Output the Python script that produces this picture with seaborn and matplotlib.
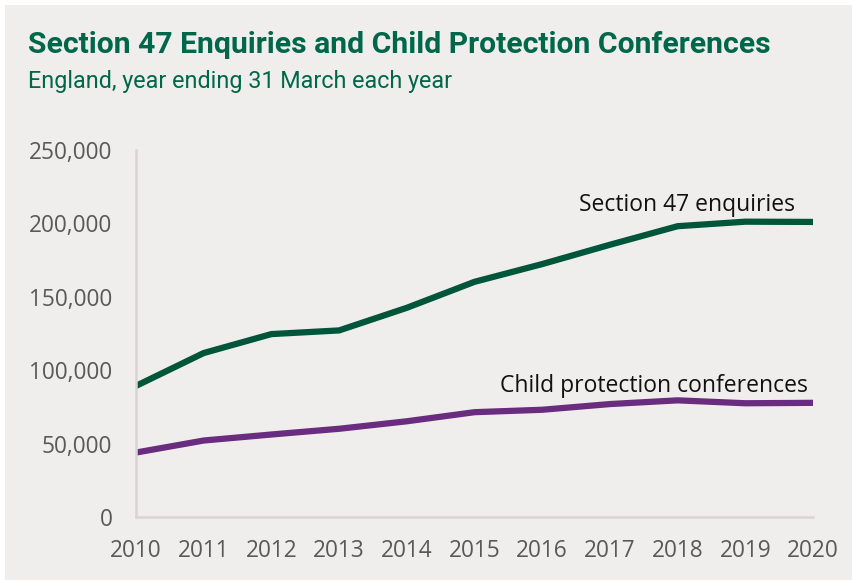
import matplotlib
matplotlib.use("Agg")
import matplotlib.pyplot as plt
import seaborn as sns
import pandas as pd
from matplotlib.patches import Rectangle
from matplotlib.ticker import FuncFormatter

years = [2010, 2011, 2012, 2013, 2014, 2015, 2016, 2017, 2018, 2019, 2020]
section47 = [89300, 111700, 124600, 127100, 142500, 160200, 172290, 185450, 198090, 201170, 201000]
cp_conferences = [43900, 52100, 56200, 60100, 65200, 71400, 73050, 76930, 79470, 77480, 77770]
series_names = ["Section 47 enquiries", "Child protection conferences"]
yticks = [0, 50000, 100000, 150000, 200000, 250000]

df = pd.DataFrame({
    "year": years * 2,
    "value": section47 + cp_conferences,
    "series": [series_names[0]] * len(years) + [series_names[1]] * len(years),
})

BG = "#EFEEEC"
GREEN = "#00553A"
PURPLE = "#6A2C7F"
TITLE = "#00674A"
GRID = "#D9D4D4"
TICK = "#595959"

sns.set_theme(style="white")
plt.rcParams["font.family"] = ["Open Sans", "DejaVu Sans"]

fig = plt.figure(figsize=(8.52, 5.82), dpi=100, facecolor="white")
fig.patches.append(Rectangle((5 / 852, 2 / 582), 1, 1 - 7 / 582, transform=fig.transFigure,
                             facecolor=BG, edgecolor="none", zorder=-10))
ax = fig.add_axes([136 / 852, 1 - 517 / 582, (813 - 136) / 852, (517 - 150) / 582])
ax.set_facecolor(BG)

sns.lineplot(data=df, x="year", y="value", hue="series", palette=[GREEN, PURPLE],
             linewidth=4.5, ax=ax, legend=False)

ax.set_xlim(2010, 2020)
ax.set_ylim(0, 250000)
ax.set_xticks(years)
ax.set_yticks(yticks)
ax.yaxis.set_major_formatter(FuncFormatter(lambda v, p: f"{int(v):,}"))
ax.set_xlabel("")
ax.set_ylabel("")
for s in ["top", "right"]:
    ax.spines[s].set_visible(False)
for s in ["left", "bottom"]:
    ax.spines[s].set_color(GRID)
    ax.spines[s].set_linewidth(1.8)
ax.tick_params(axis="both", colors=GRID, labelcolor=TICK, labelsize=16.3,
               direction="out", length=7, width=1.8)
ax.tick_params(axis="x", pad=9)
ax.tick_params(axis="y", pad=10)

ax.text(2019.73, 212500, series_names[0], ha="right", va="center", fontsize=16.5, color="#111111")
ax.text(2019.93, 89000, series_names[1], ha="right", va="center", fontsize=16.5, color="#111111")

fig.text(28 / 852, 1 - 45 / 582, "Section 47 Enquiries and Child Protection Conferences",
         ha="left", va="center", fontsize=21.7, fontweight="bold", color=TITLE,
         family=["Roboto", "DejaVu Sans"])
fig.text(28 / 852, 1 - 82 / 582, "England, year ending 31 March each year",
         ha="left", va="center", fontsize=16.8, color=TITLE, family=["Roboto", "DejaVu Sans"])

fig.savefig("out.png", dpi=100, facecolor="white")
